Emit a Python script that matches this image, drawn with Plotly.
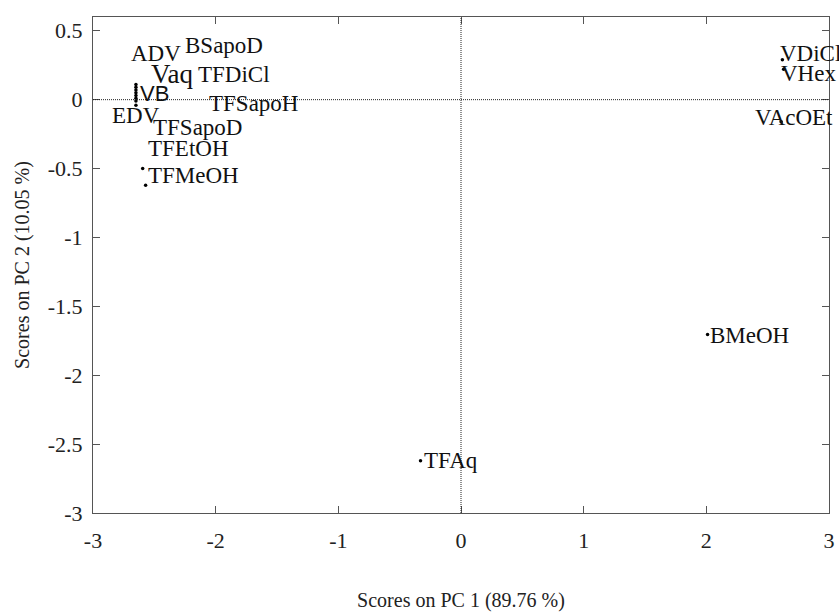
import plotly.graph_objects as go

# sample names
names = ["ADV", "BSapoD", "Vaq", "TFDiCl", "VB", "TFSapoH", "EDV", "TFSapoD",
         "TFEtOH", "TFMeOH", "VDiCl", "VHex", "VAcOEt", "BMeOH", "TFAq"]
# score values (PC1, PC2)
pc1 = [-2.65, -2.65, -2.65, -2.65, -2.65, -2.65, -2.65, -2.65,
       -2.595, -2.571, 2.62, 2.63, 2.61, 2.01, -0.33]
pc2 = [0.11, 0.09, 0.07, 0.05, 0.03, 0.01, -0.01, -0.04,
       -0.499, -0.622, 0.29, 0.22, -0.16, -1.705, -2.62]
# label anchor positions (decluttered, left/middle anchored)
lab_x = [-2.695, -2.258, -2.538, -2.152, -2.625, -2.063, -2.850, -2.516,
         -2.560, -2.560, 2.59, 2.60, 2.39, 2.02, -0.31]
lab_y = [0.336, 0.394, 0.184, 0.184, 0.048, -0.027, -0.114, -0.199,
         -0.351, -0.549, 0.333, 0.193, -0.13, -1.71, -2.62]

x_ticks = [-3, -2, -1, 0, 1, 2, 3]
y_ticks = [0.5, 0, -0.5, -1, -1.5, -2, -2.5, -3]

def fmt(v):
    return "%g" % v

serif = "Liberation Serif, Times New Roman, serif"

fig = go.Figure()
fig.add_trace(go.Scatter(x=pc1, y=pc2, mode="markers",
                         marker=dict(color="black", size=3.5),
                         hoverinfo="skip", showlegend=False))

for n, x, y in zip(names, lab_x, lab_y):
    fam = serif
    size = 23
    if n == "VB":
        fam = "Liberation Sans, Arial, sans-serif"
        size = 22
    if n == "Vaq":
        size = 27
    fig.add_annotation(x=x, y=y, text=n, showarrow=False, xanchor="left",
                       yanchor="middle", xref="x", yref="y", borderpad=0,
                       font=dict(family=fam, size=size, color="#111"))

# zero reference lines
fig.add_shape(type="line", x0=0, x1=0, y0=-3, y1=0.6, xref="x", yref="y",
              line=dict(color="#222", width=1, dash="1px,1px"))
fig.add_shape(type="line", x0=-3, x1=3, y0=0, y1=0, xref="x", yref="y",
              line=dict(color="#222", width=1, dash="1px,1px"))

axis_common = dict(showgrid=False, zeroline=False, showline=True,
                   linecolor="#555", linewidth=1, mirror="ticks",
                   ticks="inside", ticklen=7, tickcolor="#555",
                   automargin=False,
                   tickfont=dict(family=serif, size=22, color="#222"))

fig.update_xaxes(range=[-3, 3], tickvals=x_ticks,
                 ticktext=[fmt(v) for v in x_ticks],
                 ticklabelstandoff=8,
                 title=dict(text="Scores on PC 1 (89.76 %)", standoff=43,
                            font=dict(family=serif, size=20, color="#222")),
                 **axis_common)
fig.update_yaxes(range=[-3, 0.6], tickvals=y_ticks,
                 ticktext=[fmt(v) for v in y_ticks],
                 ticklabelstandoff=5,
                 title=dict(text="Scores on PC 2 (10.05 %)", standoff=12,
                            font=dict(family=serif, size=20, color="#222")),
                 **axis_common)

fig.update_layout(width=839, height=612, plot_bgcolor="white",
                  paper_bgcolor="white",
                  margin=dict(l=93, r=10, t=17, b=99))

fig.write_html("out.html")
